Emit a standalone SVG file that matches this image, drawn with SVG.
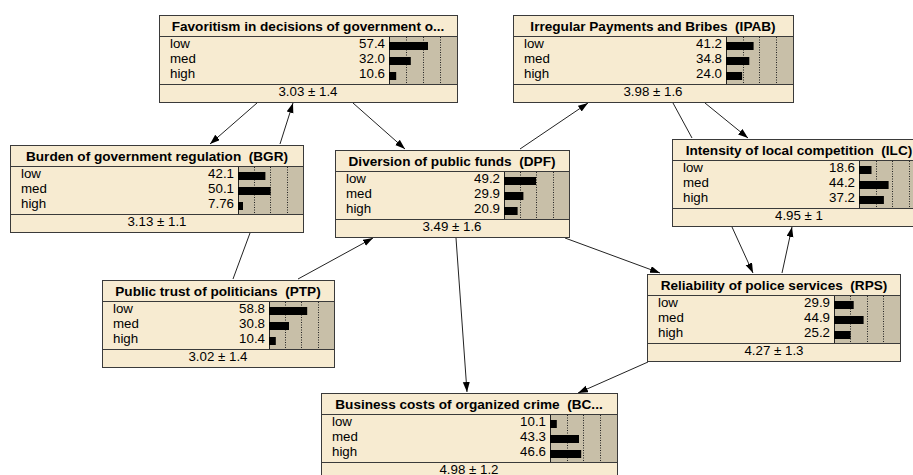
<svg xmlns="http://www.w3.org/2000/svg" width="913" height="475" viewBox="0 0 913 475">
<defs>
<style>
.bg{fill:#ffffff}
.box{fill:#f7ebd1;stroke:#3a3a3a;stroke-width:1}
.sep{stroke:#3a3a3a;stroke-width:1}
.barbg{fill:#c8bfa8;stroke:none}
.bl{stroke:#222;stroke-width:1}
.grid{stroke:#222;stroke-width:1;stroke-dasharray:1 1.5}
.bar{fill:#000}
text{font-family:"Liberation Sans",Arial,sans-serif;fill:#000}
.title{font-size:13.6px;font-weight:bold;text-anchor:middle;white-space:pre}
.lab{font-size:13.3px}
.num{font-size:13.3px;text-anchor:end}
.mean{font-size:13.3px;text-anchor:middle}
.edge{stroke:#222;stroke-width:1;fill:none}
</style>
<marker id="arr" markerUnits="userSpaceOnUse" markerWidth="11" markerHeight="8" refX="10" refY="3.5" orient="auto">
<path d="M0,0 L10,3.5 L0,7 z" fill="#000"/>
</marker>
</defs>
<rect class="bg" x="0" y="0" width="913" height="475"/>

<g id="connectors">
<line class="edge" x1="257" y1="103" x2="210" y2="144" marker-end="url(#arr)"/>
<line class="edge" x1="280" y1="144" x2="293" y2="103" marker-end="url(#arr)"/>
<line class="edge" x1="353" y1="103" x2="405" y2="149" marker-end="url(#arr)"/>
<line class="edge" x1="520" y1="149" x2="588" y2="103" marker-end="url(#arr)"/>
<line class="edge" x1="673" y1="103" x2="692" y2="138"/>
<line class="edge" x1="705" y1="103" x2="748" y2="138" marker-end="url(#arr)"/>
<line class="edge" x1="250" y1="233" x2="233" y2="279"/>
<line class="edge" x1="298" y1="279" x2="373" y2="238" marker-end="url(#arr)"/>
<line class="edge" x1="565" y1="238" x2="660" y2="273" marker-end="url(#arr)"/>
<line class="edge" x1="732" y1="227" x2="753" y2="273" marker-end="url(#arr)"/>
<line class="edge" x1="782" y1="273" x2="792" y2="227" marker-end="url(#arr)"/>
<line class="edge" x1="456" y1="238" x2="467" y2="392" marker-end="url(#arr)"/>
<line class="edge" x1="648" y1="362" x2="578" y2="393" marker-end="url(#arr)"/>
</g>

<!-- Favoritism: L159 T15 R457 B389 -->
<g id="FAV" transform="translate(159,15)">
<rect class="box" x="0.5" y="0.5" width="298" height="87"/>
<rect class="barbg" x="230" y="21.5" width="68" height="48"/>
<line class="bl" x1="230.5" y1="21.5" x2="230.5" y2="69.5"/>
<line class="grid" x1="247.5" y1="22" x2="247.5" y2="69"/>
<line class="grid" x1="264.5" y1="22" x2="264.5" y2="69"/>
<line class="grid" x1="281.5" y1="22" x2="281.5" y2="69"/>
<line class="sep" x1="0.5" y1="21.5" x2="298.5" y2="21.5"/>
<line class="sep" x1="0.5" y1="69.5" x2="298.5" y2="69.5"/>
<text class="title" x="149" y="16">Favoritism in decisions of government o...</text>
<text class="lab" x="11" y="33">low</text><text class="num" x="226" y="33">57.4</text><rect class="bar" x="230" y="27" width="39" height="8"/>
<text class="lab" x="11" y="48">med</text><text class="num" x="226" y="48">32.0</text><rect class="bar" x="230" y="42" width="21.8" height="8"/>
<text class="lab" x="11" y="63">high</text><text class="num" x="226" y="63">10.6</text><rect class="bar" x="230" y="57" width="7.2" height="8"/>
<text class="mean" x="149" y="81">3.03 ± 1.4</text>
</g>

<!-- IPAB: L513 T15 R793 B726 -->
<g id="IPAB" transform="translate(513,15)">
<rect class="box" x="0.5" y="0.5" width="280" height="87"/>
<rect class="barbg" x="213" y="21.5" width="67" height="48"/>
<line class="bl" x1="213.5" y1="21.5" x2="213.5" y2="69.5"/>
<line class="grid" x1="230.5" y1="22" x2="230.5" y2="69"/>
<line class="grid" x1="246.5" y1="22" x2="246.5" y2="69"/>
<line class="grid" x1="263.5" y1="22" x2="263.5" y2="69"/>
<line class="sep" x1="0.5" y1="21.5" x2="280.5" y2="21.5"/>
<line class="sep" x1="0.5" y1="69.5" x2="280.5" y2="69.5"/>
<text class="title" x="140" y="16" xml:space="preserve">Irregular Payments and Bribes  (IPAB)</text>
<text class="lab" x="11" y="33">low</text><text class="num" x="209" y="33">41.2</text><rect class="bar" x="213" y="27" width="27.6" height="8"/>
<text class="lab" x="11" y="48">med</text><text class="num" x="209" y="48">34.8</text><rect class="bar" x="213" y="42" width="23.3" height="8"/>
<text class="lab" x="11" y="63">high</text><text class="num" x="209" y="63">24.0</text><rect class="bar" x="213" y="57" width="16.1" height="8"/>
<text class="mean" x="140" y="81">3.98 ± 1.6</text>
</g>

<!-- BGR: L10 T145 R303 B238 -->
<g id="BGR" transform="translate(10,145)">
<rect class="box" x="0.5" y="0.5" width="293" height="87"/>
<rect class="barbg" x="228" y="21.5" width="65" height="48"/>
<line class="bl" x1="228.5" y1="21.5" x2="228.5" y2="69.5"/>
<line class="grid" x1="244.5" y1="22" x2="244.5" y2="69"/>
<line class="grid" x1="260.5" y1="22" x2="260.5" y2="69"/>
<line class="grid" x1="277.5" y1="22" x2="277.5" y2="69"/>
<line class="sep" x1="0.5" y1="21.5" x2="293.5" y2="21.5"/>
<line class="sep" x1="0.5" y1="69.5" x2="293.5" y2="69.5"/>
<text class="title" x="147" y="16" xml:space="preserve">Burden of government regulation  (BGR)</text>
<text class="lab" x="11" y="33">low</text><text class="num" x="224" y="33">42.1</text><rect class="bar" x="228" y="27" width="27.4" height="8"/>
<text class="lab" x="11" y="48">med</text><text class="num" x="224" y="48">50.1</text><rect class="bar" x="228" y="42" width="32.6" height="8"/>
<text class="lab" x="11" y="63">high</text><text class="num" x="224" y="63">7.76</text><rect class="bar" x="228" y="57" width="5" height="8"/>
<text class="mean" x="147" y="81">3.13 ± 1.1</text>
</g>

<!-- DPF: L335 T150 R569 B504 -->
<g id="DPF" transform="translate(335,150)">
<rect class="box" x="0.5" y="0.5" width="234" height="87"/>
<rect class="barbg" x="169" y="21.5" width="65" height="48"/>
<line class="bl" x1="169.5" y1="21.5" x2="169.5" y2="69.5"/>
<line class="grid" x1="185.5" y1="22" x2="185.5" y2="69"/>
<line class="grid" x1="201.5" y1="22" x2="201.5" y2="69"/>
<line class="grid" x1="218.5" y1="22" x2="218.5" y2="69"/>
<line class="sep" x1="0.5" y1="21.5" x2="234.5" y2="21.5"/>
<line class="sep" x1="0.5" y1="69.5" x2="234.5" y2="69.5"/>
<text class="title" x="117" y="16" xml:space="preserve">Diversion of public funds  (DPF)</text>
<text class="lab" x="11" y="33">low</text><text class="num" x="165" y="33">49.2</text><rect class="bar" x="169" y="27" width="32" height="8"/>
<text class="lab" x="11" y="48">med</text><text class="num" x="165" y="48">29.9</text><rect class="bar" x="169" y="42" width="19.4" height="8"/>
<text class="lab" x="11" y="63">high</text><text class="num" x="165" y="63">20.9</text><rect class="bar" x="169" y="57" width="13.6" height="8"/>
<text class="mean" x="117" y="81">3.49 ± 1.6</text>
</g>

<!-- ILC: L672 T139 R926 B859 -->
<g id="ILC" transform="translate(672,139)">
<rect class="box" x="0.5" y="0.5" width="254" height="87"/>
<rect class="barbg" x="187" y="21.5" width="67" height="48"/>
<line class="bl" x1="187.5" y1="21.5" x2="187.5" y2="69.5"/>
<line class="grid" x1="204.5" y1="22" x2="204.5" y2="69"/>
<line class="grid" x1="220.5" y1="22" x2="220.5" y2="69"/>
<line class="grid" x1="237.5" y1="22" x2="237.5" y2="69"/>
<line class="sep" x1="0.5" y1="21.5" x2="254.5" y2="21.5"/>
<line class="sep" x1="0.5" y1="69.5" x2="254.5" y2="69.5"/>
<text class="title" x="127" y="16" xml:space="preserve">Intensity of local competition  (ILC)</text>
<text class="lab" x="11" y="33">low</text><text class="num" x="183" y="33">18.6</text><rect class="bar" x="187" y="27" width="12.5" height="8"/>
<text class="lab" x="11" y="48">med</text><text class="num" x="183" y="48">44.2</text><rect class="bar" x="187" y="42" width="29.6" height="8"/>
<text class="lab" x="11" y="63">high</text><text class="num" x="183" y="63">37.2</text><rect class="bar" x="187" y="57" width="24.9" height="8"/>
<text class="mean" x="127" y="81">4.95 ± 1</text>
</g>

<!-- PTP: L102 T280 R334 B269 -->
<g id="PTP" transform="translate(102,280)">
<rect class="box" x="0.5" y="0.5" width="232" height="87"/>
<rect class="barbg" x="167" y="21.5" width="65" height="48"/>
<line class="bl" x1="167.5" y1="21.5" x2="167.5" y2="69.5"/>
<line class="grid" x1="183.5" y1="22" x2="183.5" y2="69"/>
<line class="grid" x1="199.5" y1="22" x2="199.5" y2="69"/>
<line class="grid" x1="216.5" y1="22" x2="216.5" y2="69"/>
<line class="sep" x1="0.5" y1="21.5" x2="232.5" y2="21.5"/>
<line class="sep" x1="0.5" y1="69.5" x2="232.5" y2="69.5"/>
<text class="title" x="116" y="16" xml:space="preserve">Public trust of politicians  (PTP)</text>
<text class="lab" x="11" y="33">low</text><text class="num" x="163" y="33">58.8</text><rect class="bar" x="167" y="27" width="38.2" height="8"/>
<text class="lab" x="11" y="48">med</text><text class="num" x="163" y="48">30.8</text><rect class="bar" x="167" y="42" width="20" height="8"/>
<text class="lab" x="11" y="63">high</text><text class="num" x="163" y="63">10.4</text><rect class="bar" x="167" y="57" width="6.8" height="8"/>
<text class="mean" x="116" y="81">3.02 ± 1.4</text>
</g>

<!-- RPS: L647 T274 R900 B834 -->
<g id="RPS" transform="translate(647,274)">
<rect class="box" x="0.5" y="0.5" width="253" height="87"/>
<rect class="barbg" x="187" y="21.5" width="66" height="48"/>
<line class="bl" x1="187.5" y1="21.5" x2="187.5" y2="69.5"/>
<line class="grid" x1="203.5" y1="22" x2="203.5" y2="69"/>
<line class="grid" x1="220.5" y1="22" x2="220.5" y2="69"/>
<line class="grid" x1="236.5" y1="22" x2="236.5" y2="69"/>
<line class="sep" x1="0.5" y1="21.5" x2="253.5" y2="21.5"/>
<line class="sep" x1="0.5" y1="69.5" x2="253.5" y2="69.5"/>
<text class="title" x="127" y="16" xml:space="preserve">Reliability of police services  (RPS)</text>
<text class="lab" x="11" y="33">low</text><text class="num" x="183" y="33">29.9</text><rect class="bar" x="187" y="27" width="19.7" height="8"/>
<text class="lab" x="11" y="48">med</text><text class="num" x="183" y="48">44.9</text><rect class="bar" x="187" y="42" width="29.6" height="8"/>
<text class="lab" x="11" y="63">high</text><text class="num" x="183" y="63">25.2</text><rect class="bar" x="187" y="57" width="16.6" height="8"/>
<text class="mean" x="127" y="81">4.27 ± 1.3</text>
</g>

<!-- BC: L321 T393 R617 B550 -->
<g id="BC" transform="translate(321,393)">
<rect class="box" x="0.5" y="0.5" width="296" height="87"/>
<rect class="barbg" x="229" y="21.5" width="67" height="48"/>
<line class="bl" x1="229.5" y1="21.5" x2="229.5" y2="69.5"/>
<line class="grid" x1="246.5" y1="22" x2="246.5" y2="69"/>
<line class="grid" x1="262.5" y1="22" x2="262.5" y2="69"/>
<line class="grid" x1="279.5" y1="22" x2="279.5" y2="69"/>
<line class="sep" x1="0.5" y1="21.5" x2="296.5" y2="21.5"/>
<line class="sep" x1="0.5" y1="69.5" x2="296.5" y2="69.5"/>
<text class="title" x="148" y="16" xml:space="preserve">Business costs of organized crime  (BC...</text>
<text class="lab" x="11" y="33">low</text><text class="num" x="225" y="33">10.1</text><rect class="bar" x="229" y="27" width="6.8" height="8"/>
<text class="lab" x="11" y="48">med</text><text class="num" x="225" y="48">43.3</text><rect class="bar" x="229" y="42" width="29" height="8"/>
<text class="lab" x="11" y="63">high</text><text class="num" x="225" y="63">46.6</text><rect class="bar" x="229" y="57" width="31.2" height="8"/>
<text class="mean" x="148" y="81">4.98 ± 1.2</text>
</g>
</svg>
